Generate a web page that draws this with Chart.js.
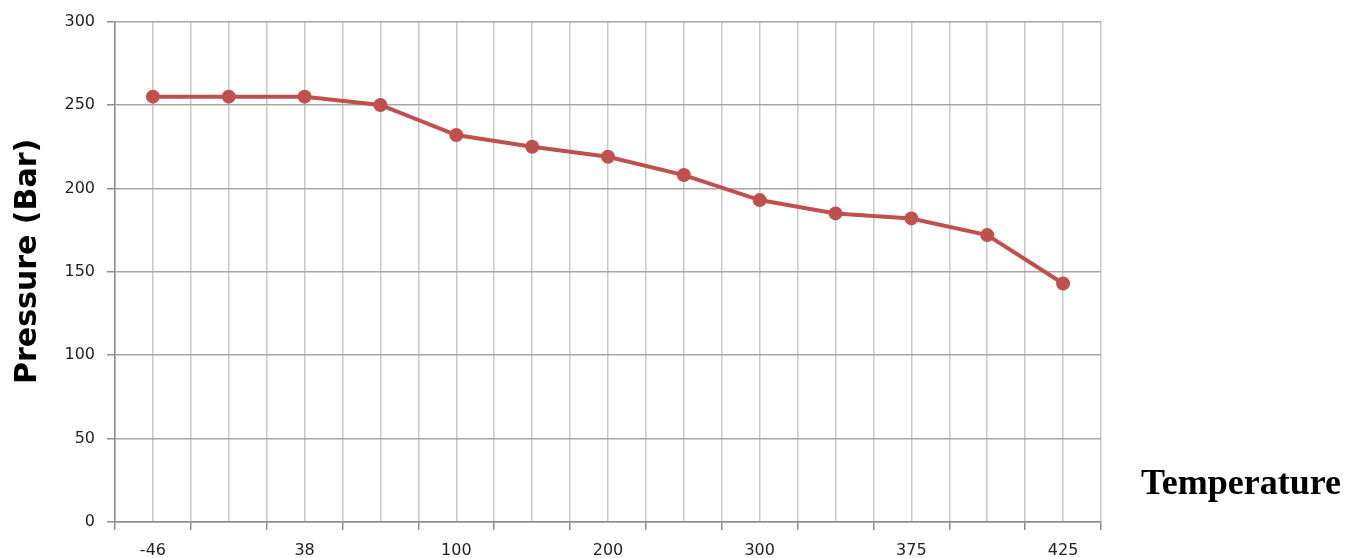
<!DOCTYPE html>
<html>
<head>
<meta charset="utf-8">
<script src="https://cdn.jsdelivr.net/npm/chart.js@4"></script>
<style>
  html, body { margin: 0; padding: 0; background: #fff; }
  #wrap { width: 1357px; height: 558px; }
</style>
</head>
<body>
<div id="wrap"><canvas id="myChart" width="1357" height="558"></canvas></div>
<script>
// temperatures on the x axis (only every other one is labelled in the original)
const temperatures = ['-46', '-29', '38', '50', '100', '150', '200', '250', '300', '350', '375', '400', '425']
const pressures = [255, 255, 255, 250, 232, 225, 219, 208, 193, 185, 182, 172, 143]
const yMin = 0
const yMax = 300
const yStep = 50

const canvas = document.getElementById('myChart')

const sideTitle = {
    id: 'sideTitle',
    afterDraw(chart) {
        const { ctx, chartArea } = chart
        ctx.save()
        ctx.font = 'bold 36px "Liberation Serif"'
        ctx.fillStyle = '#000'
        ctx.textAlign = 'left'
        ctx.textBaseline = 'alphabetic'
        ctx.fillText('Temperature', chartArea.right + 40, chartArea.bottom - 28)
        ctx.restore()
    }
}

const tickFont = { family: '"DejaVu Sans"', size: 16 }

const config = {
    type: 'line',
    data: {
        labels: temperatures,
        datasets: [{
            label: 'Pressure',
            data: pressures,
            borderColor: '#c0504d',
            backgroundColor: '#c0504d',
            borderWidth: 4,
            pointRadius: 5,
            pointHoverRadius: 5,
            tension: 0,
            xAxisID: 'x',
            yAxisID: 'y'
        }]
    },
    options: {
        responsive: false,
        animation: false,
        events: [],
        layout: {
            padding: { left: 0, top: 20, right: 256, bottom: 0 }
        },
        plugins: {
            legend: { display: false },
            tooltip: { enabled: false }
        },
        scales: {
            x: {
                type: 'category',
                position: 'bottom',
                offset: true,
                grid: {
                    offset: true,
                    color: '#c8c8c8',
                    tickColor: '#8c8c8c',
                    tickLength: 8,
                    lineWidth: 1.5
                },
                border: { color: '#8c8c8c', width: 1.5 },
                ticks: {
                    autoSkip: false,
                    maxRotation: 0,
                    padding: 11,
                    color: '#1f1f1f',
                    font: tickFont,
                    callback: (v, i) => i % 2 === 0 ? temperatures[i] : ''
                },
                afterFit: s => { s.height = 36 }
            },
            // second category axis only to draw the gridlines through the points
            xc: {
                type: 'category',
                position: 'bottom',
                offset: true,
                grid: {
                    offset: false,
                    color: '#c8c8c8',
                    drawTicks: false,
                    lineWidth: 1.5
                },
                border: { display: false },
                ticks: { display: false },
                afterFit: s => { s.height = 0 }
            },
            y: {
                min: yMin,
                max: yMax,
                ticks: {
                    stepSize: yStep,
                    padding: 12,
                    color: '#1f1f1f',
                    font: tickFont
                },
                grid: {
                    color: '#a6a6a6',
                    tickColor: '#8c8c8c',
                    tickLength: 8,
                    lineWidth: 1.5
                },
                border: { color: '#8c8c8c', width: 1.5 },
                title: {
                    display: true,
                    text: '  Pressure (Bar)',
                    color: '#000',
                    font: { family: '"DejaVu Sans"', size: 30, weight: 'bold' },
                    padding: { top: 10, bottom: 0 }
                },
                afterFit: s => { s.width = 115 }
            }
        }
    },
    plugins: [sideTitle]
}

const myChart = new Chart(canvas, config)
</script>
</body>
</html>
